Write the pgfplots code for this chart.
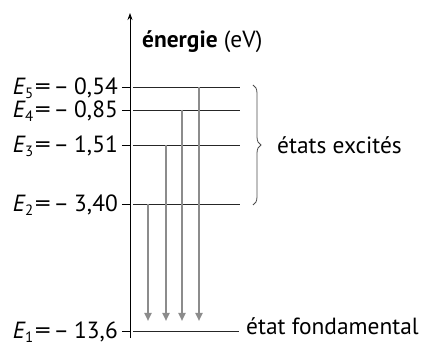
\documentclass[border=0pt]{standalone}
\usepackage{fontspec}
\setmainfont{PT Sans}
\usepackage{pgfplots}
\pgfplotsset{compat=1.18}
\usetikzlibrary{arrows.meta,decorations.pathreplacing}
\newcommand\lvl[2]{\textit{E}\kern-0.03em\raisebox{-0.3ex}{\fontsize{15}{15}\selectfont #1}\kern0.07em\scalebox{1.35}[1]{=}\kern0.12em–\kern0.22em#2}
\begin{document}
\begin{tikzpicture}
\begin{axis}[
  scale only axis,
  width=293bp, height=325bp,
  xmin=0, xmax=293, ymin=3, ymax=328,
  axis x line=none,
  axis y line=left,
  axis line style={black, line width=0.8bp, -{Stealth[length=7bp,width=5bp]}},
  ytick={10,137,196,231,254},
  yticklabels={\lvl{1}{13,6},\lvl{2}{3,40},\lvl{3}{1,51},\lvl{4}{0,85},\lvl{5}{0,54}},
  tick align=outside,
  major tick length=8bp,
  tick style={black, line width=0.8bp},
  yticklabel style={font=\fontsize{23.5}{23.5}\selectfont, inner sep=0pt, anchor=base east, xshift=-4bp, yshift=-7.5bp},
  clip=false,
]
% energy levels (y position in diagram, drawn as horizontal lines)
\addplot[black!85, line width=0.9bp] coordinates {(3,10) (109,10)};
\addplot[black!85, line width=0.9bp] coordinates {(3,137) (110,137)};
\addplot[black!85, line width=0.9bp] coordinates {(3,196) (110,196)};
\addplot[black!85, line width=0.9bp] coordinates {(3,231) (110,231)};
\addplot[black!85, line width=0.9bp] coordinates {(3,254) (110,254)};
% transitions to ground state
\addplot[color={rgb,255:red,140;green,140;blue,140}, line width=2.3bp, -{Triangle[length=8bp,width=7bp]}] coordinates {(18,137) (18,20)};
\addplot[color={rgb,255:red,140;green,140;blue,140}, line width=2.3bp, -{Triangle[length=8bp,width=7bp]}] coordinates {(36,196) (36,20)};
\addplot[color={rgb,255:red,140;green,140;blue,140}, line width=2.3bp, -{Triangle[length=8bp,width=7bp]}] coordinates {(52,231) (52,20)};
\addplot[color={rgb,255:red,140;green,140;blue,140}, line width=2.3bp, -{Triangle[length=8bp,width=7bp]}] coordinates {(69,254) (69,20)};
\draw[black!70, line width=0.8bp, decorate, decoration={brace, amplitude=8bp}] (axis cs:123,256) -- (axis cs:123,136);
\node[anchor=west, font=\fontsize{23.5}{23.5}\selectfont, inner sep=0pt] at (axis cs:12,299) {\textbf{énergie} (eV)};
\node[anchor=west, font=\fontsize{23.5}{23.5}\selectfont, inner sep=0pt] at (axis cs:147,196) {états excités};
\node[anchor=base west, font=\fontsize{23.5}{23.5}\selectfont, inner sep=0pt] at (axis cs:116,6.5) {état fondamental};
\coordinate (bl) at (axis cs:-130,-5);
\coordinate (tr) at (axis cs:293,341);
\end{axis}
\pgfresetboundingbox
\useasboundingbox (bl) rectangle (tr);
\end{tikzpicture}
\end{document}
